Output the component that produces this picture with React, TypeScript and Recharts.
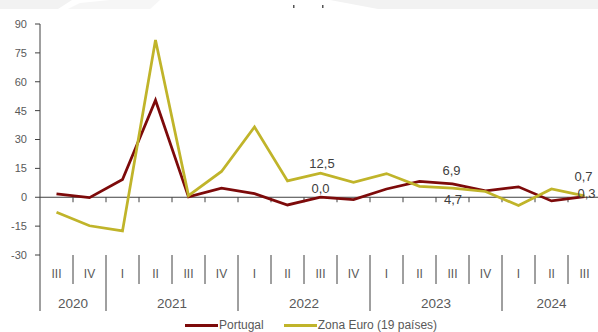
import React from "react";
import {
  LineChart,
  Line,
  XAxis,
  YAxis,
  ReferenceLine,
  LabelList,
  Legend,
} from "recharts";

// ---- data ----
const quarters = ["III", "IV", "I", "II", "III", "IV", "I", "II", "III", "IV", "I", "II", "III", "IV", "I", "II", "III"];
const yearLabels = ["2020", "2021", "2022", "2023", "2024"];
const yearQuarterCounts = [2, 4, 4, 4, 3];
const portugal = [1.8, -0.2, 9.2, 50.4, 0.2, 4.7, 1.9, -4.0, 0.0, -1.2, 4.3, 8.2, 6.9, 3.3, 5.4, -1.9, 0.3];
const zonaEuro = [-7.8, -14.8, -17.5, 81.7, 0.9, 13.4, 36.5, 8.5, 12.5, 7.8, 12.3, 5.7, 4.7, 3.0, -4.3, 4.3, 0.7];
const yTicks = [-30, -15, 0, 15, 30, 45, 60, 75, 90];
const labelledPortugal = [8, 12, 16];
const labelledEuro = [8, 12, 16];

const PT_COLOR = "#7d0a0a";
const EU_COLOR = "#c0b42a";
const TEXT = "#595959";
const LINE = "#404040";
const FONT = "'Liberation Sans', Arial, sans-serif";

const data = quarters.map((q, i) => ({
  x: i + 0.5,
  q,
  portugal: portugal[i],
  euro: zonaEuro[i],
}));

// year boundaries and centres (in category units)
const yearBounds: number[] = [0];
yearQuarterCounts.forEach((c) => yearBounds.push(yearBounds[yearBounds.length - 1] + c));
const yearCentres = yearLabels.map((_, i) => (yearBounds[i] + yearBounds[i + 1]) / 2);

const quarterTicks: number[] = [];
for (let i = 0; i <= quarters.length; i++) {
  quarterTicks.push(i);
  if (i < quarters.length) quarterTicks.push(i + 0.5);
}
const yearTicks = [...yearBounds, ...yearCentres].sort((a, b) => a - b);

const fmt = (v: number) => v.toFixed(1).replace(".", ",");

// label placement offsets (style only)
const ptOffsets: Record<number, [number, number]> = { 8: [0, -9], 12: [-1, -13], 16: [2, -3.5] };
const euOffsets: Record<number, [number, number]> = { 8: [1.5, -10], 12: [0.5, 11.5], 16: [-1, -19] };

const makeLabel = (indices: number[], offsets: Record<number, [number, number]>) => (props: any) => {
  const { x, y, value, index } = props;
  if (!indices.includes(index)) return null;
  const [dx, dy] = offsets[index] || [0, -10];
  return (
    <text
      x={x + dx}
      y={y + dy}
      textAnchor="middle"
      dominantBaseline="central"
      fontFamily={FONT}
      fontSize={13}
      fill={LINE}
    >
      {fmt(value)}
    </text>
  );
};

const QuarterTick = (props: any) => {
  const { x, y, payload } = props;
  const v = payload.value as number;
  if (Number.isInteger(v)) {
    return <line x1={x} x2={x} y1={y} y2={y + 29} stroke={LINE} strokeWidth={1} />;
  }
  const idx = Math.floor(v);
  return (
    <text x={x} y={y + 19} textAnchor="middle" dominantBaseline="central" fontFamily={FONT} fontSize={12} fill={TEXT}>
      {quarters[idx]}
    </text>
  );
};

const YearTick = (props: any) => {
  const { x, y, payload } = props;
  const v = payload.value as number;
  const bi = yearBounds.indexOf(v);
  if (bi >= 0) {
    return <line x1={x} x2={x} y1={y} y2={y + 27} stroke={LINE} strokeWidth={1} />;
  }
  const ci = yearCentres.indexOf(v);
  return (
    <text x={x} y={y + 19} textAnchor="middle" dominantBaseline="central" fontFamily={FONT} fontSize={13.5} fill={TEXT}>
      {yearLabels[ci]}
    </text>
  );
};

const legendItems = [
  { name: "Portugal", color: PT_COLOR },
  { name: "Zona Euro (19 países)", color: EU_COLOR },
];

const LegendContent = () => (
  <div style={{ display: "flex", alignItems: "center", fontFamily: FONT, fontSize: 12, color: TEXT, paddingLeft: 185 }}>
    {legendItems.map((it, i) => (
      <div key={it.name} style={{ display: "flex", alignItems: "center", marginRight: i === 0 ? 20 : 0 }}>
        <span style={{ display: "inline-block", width: 33, height: 3, background: it.color, marginRight: 1 }} />
        <span>{it.name}</span>
      </div>
    ))}
  </div>
);

const TopStrip = () => (
  <svg width={598} height={10} style={{ position: "absolute", left: 0, top: 0 }}>
    <rect x={0} y={0} width={598} height={9} fill="#f2f2f2" />
    <polygon points="58,9 72,0 330,0 378,9" fill="#ffffff" />
    <polygon points="68,9 80,3 110,0 160,0 150,9" fill="#f6f6f6" />
    <rect x={293} y={5} width={1.5} height={3} fill="#555" />
    <rect x={322} y={5} width={1.5} height={3} fill="#555" />
  </svg>
);

export default function App() {
  return (
    <div style={{ position: "absolute", left: 0, top: 0, width: 598, height: 332, overflow: "hidden", background: "#fff" }}>
      <LineChart width={601} height={332} data={data} margin={{ top: 24, right: 0, bottom: 5, left: 0 }}>
        <XAxis
          xAxisId="q"
          dataKey="x"
          type="number"
          domain={[0, quarters.length]}
          ticks={quarterTicks}
          interval={0}
          height={29}
          axisLine={false}
          tickLine={false}
          tickSize={0}
          tickMargin={0}
          tick={<QuarterTick />}
        />
        <XAxis
          xAxisId="y"
          dataKey="x"
          type="number"
          domain={[0, quarters.length]}
          ticks={yearTicks}
          interval={0}
          height={27}
          axisLine={false}
          tickLine={false}
          tickSize={0}
          tickMargin={0}
          tick={<YearTick />}
        />
        <YAxis
          domain={[-30, 90]}
          ticks={yTicks}
          interval={0}
          width={40}
          axisLine={{ stroke: LINE }}
          tickLine={{ stroke: LINE }}
          tickSize={5}
          tickMargin={8}
          tick={{ fontFamily: FONT, fontSize: 11, fill: TEXT }}
        />
        <ReferenceLine xAxisId="q" y={0} stroke={LINE} strokeWidth={1} ifOverflow="extendDomain" />
        {quarters.slice(1).map((_, i) => (
          <ReferenceLine
            key={i}
            xAxisId="q"
            segment={[
              { x: i + 1, y: 0 },
              { x: i + 1, y: -2.6 },
            ]}
            stroke={LINE}
            strokeWidth={1}
          />
        ))}
        <Line
          xAxisId="q"
          type="linear"
          dataKey="portugal"
          name="Portugal"
          stroke={PT_COLOR}
          strokeWidth={2.75}
          dot={false}
          activeDot={false}
          isAnimationActive={false}
        >
          <LabelList dataKey="portugal" content={makeLabel(labelledPortugal, ptOffsets)} />
        </Line>
        <Line
          xAxisId="q"
          type="linear"
          dataKey="euro"
          name="Zona Euro (19 países)"
          stroke={EU_COLOR}
          strokeWidth={2.75}
          dot={false}
          activeDot={false}
          isAnimationActive={false}
        >
          <LabelList dataKey="euro" content={makeLabel(labelledEuro, euOffsets)} />
        </Line>
        <Legend
          layout="vertical"
          align="center"
          verticalAlign="bottom"
          content={<LegendContent />}
          wrapperStyle={{ left: 0, top: 318, width: 598, height: 16 }}
        />
      </LineChart>
      <TopStrip />
    </div>
  );
}
